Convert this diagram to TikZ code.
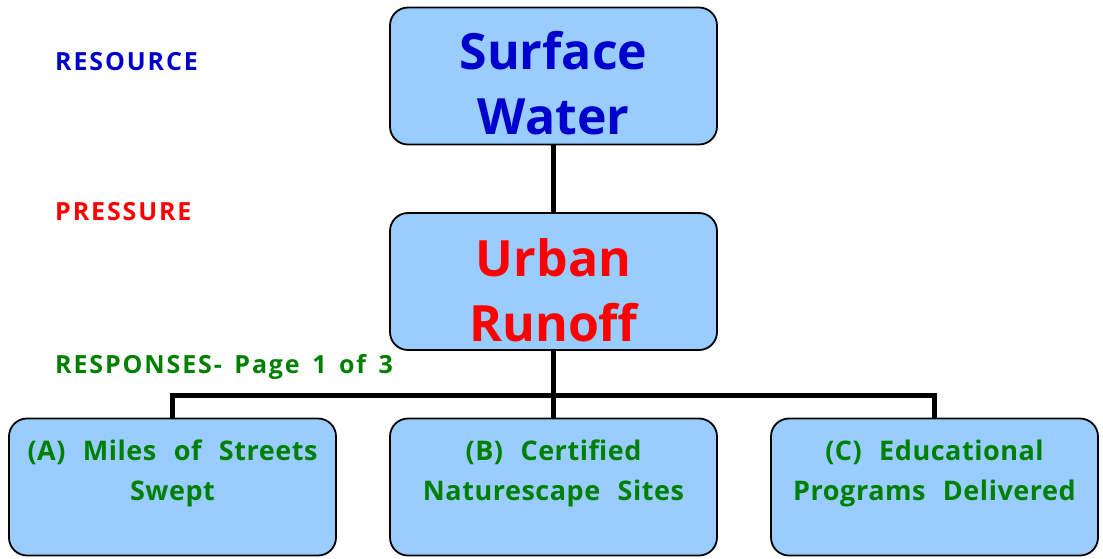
\documentclass[tikz,border=0pt]{standalone}
\usepackage{fontspec}
\setmainfont{Open Sans}[BoldFont={* Bold}]
\newfontfamily\boxfont{Open Sans}[BoldFont={* Bold},LetterSpace=2,WordSpace=2.3]
\newfontfamily\lblfont{Open Sans}[BoldFont={* Bold},LetterSpace=7.5,WordSpace=1.5]
\definecolor{boxfill}{HTML}{99CCFF}
\definecolor{tblue}{HTML}{0000CC}
\definecolor{tred}{HTML}{FF0000}
\definecolor{tgreen}{HTML}{008000}
\tikzset{
  box/.style={draw=black, line width=1.8pt, fill=boxfill, rounded corners=18pt,
    minimum width=327pt, minimum height=137pt, inner sep=0pt},
  bigtext/.style={font=\bfseries\fontsize{50}{65}\selectfont, align=center, inner sep=0pt},
  smalltext/.style={font=\boxfont\bfseries\fontsize{27}{40}\selectfont, align=center, inner sep=0pt, text=tgreen},
  lbl/.style={font=\lblfont\bfseries\fontsize{25}{28}\selectfont, anchor=base west, inner sep=0pt},
  conn/.style={line width=5pt, black}
}
\begin{document}
\begin{tikzpicture}[x=1pt,y=-1pt]
\useasboundingbox (0,0) rectangle (1103,558);
% boxes
\node[box] (sw) at (553.5,76) {};
\node[box] (ur) at (553.5,281.5) {};
\node[box] (ba) at (172.5,487) {};
\node[box] (bb) at (553.5,487) {};
\node[box] (bc) at (934.5,487) {};
% connectors
\coordinate (j) at (553.5,395.5);
\coordinate (ja) at (172.5,395.5);
\coordinate (jc) at (934.5,395.5);
\draw[conn] (sw.south) -- (ur.north);
\draw[conn] (ur.south) -- (bb.north);
\draw[conn] (ja) -- (jc);
\draw[conn] ([yshift=2.5pt]ja) -- (ba.north);
\draw[conn] ([yshift=2.5pt]jc) -- (bc.north);
% box texts
\node[bigtext, text=tblue] (swt) at (553.5,83.5) {Surface\\Water};
\node[bigtext, text=tred] (urt) at (553.5,290) {Urban\\Runoff};
\node[smalltext] (bat) at (172.5,473) {(A) Miles of Streets\\Swept};
\node[smalltext] (bbt) at (553.5,473) {(B) Certified\\Naturescape Sites};
\node[smalltext] (bct) at (934.5,473) {(C) Educational\\Programs Delivered};
% labels
\node[lbl, text=tblue] (l1) at (55,70.5) {RESOURCE};
\node[lbl, text=tred] (l2) at (55,220.5) {PRESSURE};
\node[lbl, text=tgreen] (l3) at (55,373) {RESPONSES- Page 1 of 3};
\end{tikzpicture}
\end{document}
